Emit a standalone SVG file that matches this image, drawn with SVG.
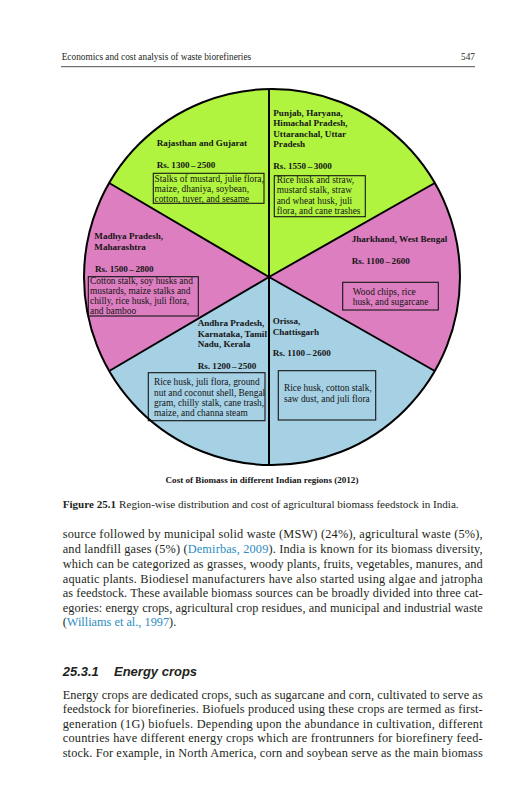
<svg xmlns="http://www.w3.org/2000/svg" width="531" height="800" viewBox="0 0 531 800">
<style>
.hd{font-family:"Liberation Serif",serif;font-size:9.3px;fill:#231f20}
.lb{font-family:"Liberation Serif",serif;font-size:9.1px;font-weight:bold;fill:#151515}
.bx{font-family:"Liberation Serif",serif;font-size:9.4px;fill:#151515}
.box{fill:none;stroke:#151515;stroke-width:1.1}
.sl{stroke:#000;stroke-width:2;stroke-linejoin:round}
.body{font-family:"Liberation Serif",serif;font-size:12.3px;fill:#231f20}
.cap{font-family:"Liberation Serif",serif;font-size:11.1px;fill:#231f20}
.lnk{fill:#2b8cbf}
.h2{font-family:"Liberation Sans",sans-serif;font-size:13px;font-weight:bold;font-style:italic;fill:#231f20}
</style>
<rect width="531" height="800" fill="#fff"/>
<g id="header">
<text class="hd" x="61.7" y="59.5">Economics and cost analysis of waste biorefineries</text>
<text class="hd" x="475" y="59.5" text-anchor="end">547</text>
<line x1="61" y1="66.7" x2="475" y2="66.7" stroke="#231f20" stroke-width="0.8"/>
</g>
<g id="slice-north-west">
<path d="M269,277 L109.2,183 A188,188 0 0 1 269,89 Z" fill="#b0f440"/>
<text class="lb" x="156.7" y="146">Rajasthan and Gujarat</text>
<text class="lb" x="156.7" y="167.5">Rs. 1300<tspan dx="1.5">–</tspan><tspan dx="1.5">2500</tspan></text>
<rect class="box" x="153.3" y="173.3" width="110.7" height="30"/>
<text class="bx" x="154.5" y="182">Stalks of mustard, julie flora,</text>
<text class="bx" x="154.5" y="192">maize, dhaniya, soybean,</text>
<text class="bx" x="154.5" y="202">cotton, tuver, and sesame</text>
</g>
<g id="slice-north">
<path d="M269,277 L269,89 A188,188 0 0 1 434.8,183 Z" fill="#b0f440"/>
<text class="lb" x="273.3" y="115.5">Punjab, Haryana,</text>
<text class="lb" x="273.3" y="126">Himachal Pradesh,</text>
<text class="lb" x="273.3" y="136.5">Uttaranchal, Uttar</text>
<text class="lb" x="273.3" y="147">Pradesh</text>
<text class="lb" x="273.3" y="169">Rs. 1550<tspan dx="1.5">–</tspan><tspan dx="1.5">3000</tspan></text>
<rect class="box" x="274.3" y="175.7" width="91" height="41"/>
<text class="bx" x="276.7" y="182.5">Rice husk and straw,</text>
<text class="bx" x="276.7" y="193">mustard stalk, straw</text>
<text class="bx" x="276.7" y="203.5">and wheat husk, juli</text>
<text class="bx" x="276.7" y="214">flora, and cane trashes</text>
</g>
<g id="slice-west">
<path d="M269,277 L109.2,371 A188,188 0 0 1 109.2,183 Z" fill="#dc7ec0"/>
<text class="lb" x="94.3" y="239">Madhya Pradesh,</text>
<text class="lb" x="94.3" y="249.5">Maharashtra</text>
<text class="lb" x="95" y="271.5">Rs. 1500<tspan dx="1.5">–</tspan><tspan dx="1.5">2800</tspan></text>
<rect class="box" x="88.3" y="276.7" width="110" height="39.3"/>
<text class="bx" x="90" y="284">Cotton stalk, soy husks and</text>
<text class="bx" x="90" y="294">mustards, maize stalks and</text>
<text class="bx" x="90" y="303.5">chilly, rice husk, juli flora,</text>
<text class="bx" x="90" y="313.5">and bamboo</text>
</g>
<g id="slice-east">
<path d="M269,277 L434.8,183 A188,188 0 0 1 434.8,371 Z" fill="#dc7ec0"/>
<text class="lb" x="351.7" y="241.5">Jharkhand, West Bengal</text>
<text class="lb" x="351.7" y="263.5">Rs. 1100<tspan dx="1.5">–</tspan><tspan dx="1.5">2600</tspan></text>
<rect class="box" x="342.7" y="282.3" width="95.6" height="27.7"/>
<text class="bx" x="352.7" y="295">Wood chips, rice</text>
<text class="bx" x="352.7" y="305">husk, and sugarcane</text>
</g>
<g id="slice-south">
<path d="M269,277 L269,465 A188,188 0 0 1 109.2,371 Z" fill="#a6d0e4"/>
<text class="lb" x="197.7" y="326">Andhra Pradesh,</text>
<text class="lb" x="197.7" y="336.5">Karnataka, Tamil</text>
<text class="lb" x="197.7" y="346.5">Nadu, Kerala</text>
<text class="lb" x="197.7" y="368.5">Rs. 1200<tspan dx="1.5">–</tspan><tspan dx="1.5">2500</tspan></text>
<rect class="box" x="148.3" y="372.7" width="116.7" height="48"/>
<text class="bx" x="154" y="385">Rice husk, juli flora, ground</text>
<text class="bx" x="154" y="395.5">nut and coconut shell, Bengal</text>
<text class="bx" x="154" y="405.5">gram, chilly stalk, cane trash,</text>
<text class="bx" x="154" y="416">maize, and channa steam</text>
</g>
<g id="slice-south-east">
<path d="M269,277 L434.8,371 A188,188 0 0 1 269,465 Z" fill="#a6d0e4"/>
<text class="lb" x="272.7" y="324">Orissa,</text>
<text class="lb" x="272.7" y="335">Chattisgarh</text>
<text class="lb" x="272.7" y="355.7">Rs. 1100<tspan dx="1.5">–</tspan><tspan dx="1.5">2600</tspan></text>
<rect class="box" x="278.3" y="370.7" width="97.4" height="49.3"/>
<text class="bx" x="284" y="391">Rice husk, cotton stalk,</text>
<text class="bx" x="284" y="401.5">saw dust, and juli flora</text>
</g>
<g id="connectors">
<circle cx="272" cy="277" r="188" fill="none" class="sl"/>
<path class="sl" fill="none" d="M269,89 V465 M109.2,183 L269,277 M434.8,183 L269,277 M109.2,371 L269,277 M434.8,371 L269,277"/>
</g>
<g id="pie-title">
<text class="lb" x="262" y="482.5" text-anchor="middle">Cost of Biomass in different Indian regions (2012)</text>
</g>
<g id="caption">
<text class="cap" x="62.7" y="508"><tspan font-weight="bold">Figure 25.1</tspan><tspan dx="3">Region-wise distribution and cost of agricultural biomass feedstock in India.</tspan></text>
</g>
<g id="body-text">
<text class="body" x="62.7" y="538" textLength="420" lengthAdjust="spacing">source followed by municipal solid waste (MSW) (24%), agricultural waste (5%),</text>
<text class="body" x="62.7" y="553" textLength="420" lengthAdjust="spacing">and landfill gases (5%) (<tspan class="lnk">Demirbas, 2009</tspan>). India is known for its biomass diversity,</text>
<text class="body" x="62.7" y="568" textLength="420" lengthAdjust="spacing">which can be categorized as grasses, woody plants, fruits, vegetables, manures, and</text>
<text class="body" x="62.7" y="582.5" textLength="420" lengthAdjust="spacing">aquatic plants. Biodiesel manufacturers have also started using algae and jatropha</text>
<text class="body" x="62.7" y="597" textLength="420" lengthAdjust="spacing">as feedstock. These available biomass sources can be broadly divided into three cat-</text>
<text class="body" x="62.7" y="611.5" textLength="420" lengthAdjust="spacing">egories: energy crops, agricultural crop residues, and municipal and industrial waste</text>
<text class="body" x="62.7" y="626">(<tspan class="lnk">Williams et al., 1997</tspan>).</text>
<text class="h2" x="62.7" y="676">25.3.1</text>
<text class="h2" x="114" y="676">Energy crops</text>
<text class="body" x="62.7" y="698.5" textLength="420" lengthAdjust="spacing">Energy crops are dedicated crops, such as sugarcane and corn, cultivated to serve as</text>
<text class="body" x="62.7" y="713" textLength="420" lengthAdjust="spacing">feedstock for biorefineries. Biofuels produced using these crops are termed as first-</text>
<text class="body" x="62.7" y="727.5" textLength="420" lengthAdjust="spacing">generation (1G) biofuels. Depending upon the abundance in cultivation, different</text>
<text class="body" x="62.7" y="742" textLength="420" lengthAdjust="spacing">countries have different energy crops which are frontrunners for biorefinery feed-</text>
<text class="body" x="62.7" y="756.5" textLength="420" lengthAdjust="spacing">stock. For example, in North America, corn and soybean serve as the main biomass</text>
</g>
</svg>
